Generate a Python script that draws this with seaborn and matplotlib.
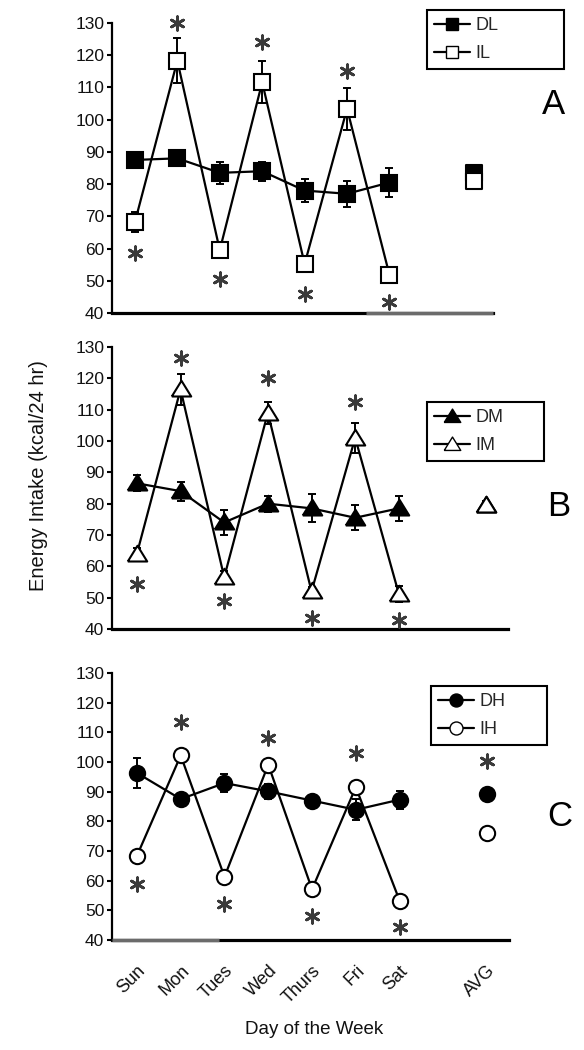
import numpy as np
import pandas as pd
import matplotlib
matplotlib.use("Agg")
import matplotlib.pyplot as plt
from matplotlib.lines import Line2D
import seaborn as sns

# ---------------- data ----------------
days = ["Sun", "Mon", "Tues", "Wed", "Thurs", "Fri", "Sat"]
avg_label = "AVG"
day_pos = [0, 1, 2, 3, 4, 5, 6]
avg_pos = 8

# Panel A (low)
DL = [87.5, 88.0, 83.5, 84.0, 78.0, 77.0, 80.5]
DL_err = [2.5, 2.0, 3.5, 3.0, 3.5, 4.0, 4.5]
DL_avg, DL_avg_err = 83.5, 1.0
IL = [68.2, 118.3, 59.5, 111.6, 55.2, 103.4, 51.8]
IL_err = [3.0, 7.0, 2.0, 6.5, 2.0, 6.5, 2.5]
IL_avg, IL_avg_err = 81.0, 2.5
stars_A_x = [0, 1, 2, 3, 4, 5, 6]
stars_A_y = [58.5, 130.0, 50.5, 124.0, 46.0, 115.0, 43.5]

# Panel B (medium)
DM = [86.5, 84.0, 74.0, 80.0, 78.5, 75.5, 78.5]
DM_err = [2.5, 3.0, 4.0, 2.5, 4.5, 4.0, 4.0]
DM_avg, DM_avg_err = 79.5, 1.0
IM = [64.0, 116.5, 56.5, 109.0, 52.0, 101.0, 51.2]
IM_err = [2.0, 5.0, 2.0, 3.5, 1.5, 4.7, 2.5]
IM_avg, IM_avg_err = 79.5, 1.5
stars_B_x = [0, 1, 2, 3, 4, 5, 6]
stars_B_y = [54.5, 126.5, 49.0, 120.0, 43.5, 112.5, 43.0]

# Panel C (high)
DH = [96.3, 87.5, 92.9, 90.1, 87.0, 83.9, 87.3]
DH_err = [5.0, 2.0, 3.0, 2.5, 1.5, 3.5, 3.0]
DH_avg, DH_avg_err = 89.3, 1.5
IH = [68.4, 102.2, 61.3, 99.1, 57.1, 91.5, 53.3]
IH_err = [1.5, 2.0, 1.5, 2.0, 1.5, 2.0, 2.0]
IH_avg, IH_avg_err = 76.0, 1.0
stars_C_x = [0, 1, 2, 3, 4, 5, 6, 8]
stars_C_y = [59.0, 113.5, 52.0, 108.0, 48.0, 103.0, 44.5, 100.5]

yticks = [40, 50, 60, 70, 80, 90, 100, 110, 120, 130]

# ---------------- style ----------------
sns.set_theme(style="ticks")
plt.rcParams["font.family"] = ["Liberation Sans", "DejaVu Sans"]

W, H = 584, 1050
fig = plt.figure(figsize=(W / 100, H / 100), dpi=100)


def fx(px):
    return px / W


def fy(py):
    return 1 - py / H


tri = [(-1.0, -0.72), (1.0, -0.72), (0.0, 0.9), (-1.0, -0.72)]

panels = [
    dict(box=(112, 23, 493, 313), xlim=(-0.54, 8.44),
         D=DL, De=DL_err, Da=DL_avg, Dae=DL_avg_err,
         I=IL, Ie=IL_err, Ia=IL_avg, Iae=IL_avg_err, marker="s", ms=11.0,
         names=("DL", "IL"), sx=stars_A_x, sy=stars_A_y, letter="A",
         letter_pos=(553, 105), leg=(427, 10, 564, 65),
         grey=(0.667, 1.0)),
    dict(box=(112, 347, 508, 629), xlim=(-0.57, 8.5),
         D=DM, De=DM_err, Da=DM_avg, Dae=DM_avg_err,
         I=IM, Ie=IM_err, Ia=IM_avg, Iae=IM_avg_err, marker=tri, ms=14.0,
         names=("DM", "IM"), sx=stars_B_x, sy=stars_B_y, letter="B",
         letter_pos=(559, 507), leg=(427, 402, 544, 457),
         grey=None),
    dict(box=(112, 673, 509, 940), xlim=(-0.57, 8.5),
         D=DH, De=DH_err, Da=DH_avg, Dae=DH_avg_err,
         I=IH, Ie=IH_err, Ia=IH_avg, Iae=IH_avg_err, marker="o", ms=11.0,
         names=("DH", "IH"), sx=stars_C_x, sy=stars_C_y, letter="C",
         letter_pos=(560, 817), leg=(431, 686, 547, 741),
         grey=(0.0, 0.27)),
]

for i, p in enumerate(panels):
    l, t, r, b = p["box"]
    ax = fig.add_axes([fx(l), fy(b), fx(r) - fx(l), fy(t) - fy(b)])

    df_D = pd.DataFrame({"x": day_pos, "y": p["D"]})
    df_I = pd.DataFrame({"x": day_pos, "y": p["I"]})

    eb = dict(fmt="none", ecolor="black", elinewidth=1.4, capsize=3,
              capthick=1.4, zorder=2)
    ax.errorbar(day_pos, p["D"], yerr=p["De"], **eb)
    ax.errorbar(day_pos, p["I"], yerr=p["Ie"], **eb)
    ax.errorbar([avg_pos], [p["Da"]], yerr=[p["Dae"]], **eb)
    ax.errorbar([avg_pos], [p["Ia"]], yerr=[p["Iae"]], **eb)

    sns.lineplot(data=df_D, x="x", y="y", ax=ax, color="black", linewidth=1.6,
                 marker=p["marker"], markersize=p["ms"], markerfacecolor="black",
                 markeredgecolor="black", markeredgewidth=1.5, zorder=3)
    sns.lineplot(data=df_I, x="x", y="y", ax=ax, color="black", linewidth=1.6,
                 marker=p["marker"], markersize=p["ms"], markerfacecolor="white",
                 markeredgecolor="black", markeredgewidth=1.5, zorder=4)
    sns.scatterplot(x=[avg_pos], y=[p["Da"]], ax=ax, marker=p["marker"],
                    s=p["ms"] ** 2, color="black", edgecolor="black",
                    linewidth=1.5, zorder=5)
    sns.scatterplot(x=[avg_pos], y=[p["Ia"]], ax=ax, marker=p["marker"],
                    s=p["ms"] ** 2, color="white", edgecolor="black",
                    linewidth=1.5, zorder=6)

    # significance asterisks
    sns.scatterplot(x=p["sx"], y=p["sy"], ax=ax, marker=(6, 2, 0), s=95,
                    color="#3a3a3a", edgecolor="#3a3a3a", linewidth=2.0,
                    zorder=7, clip_on=False)

    ax.set_xlim(*p["xlim"])
    ax.set_ylim(40, 130)
    ax.set_yticks(yticks)
    ax.set_yticklabels([str(v) for v in yticks], fontsize=12.5, color="#111111")
    ax.tick_params(axis="y", direction="out", length=3.5, width=1.5, pad=2,
                   color="black")
    ax.set_xlabel("")
    ax.set_ylabel("")
    for side in ["top", "right"]:
        ax.spines[side].set_visible(False)
    ax.spines["left"].set_linewidth(1.6)
    ax.spines["bottom"].set_linewidth(2.3)
    ax.spines["left"].set_color("black")
    ax.spines["bottom"].set_color("black")
    if p["grey"] is not None:
        g0, g1 = p["grey"]
        ax.plot([g0, g1], [0, 0], transform=ax.transAxes, color="#6b6b6b",
                lw=2.5, clip_on=False, zorder=10, solid_capstyle="butt")

    if i < 2:
        ax.set_xticks([])
    else:
        ax.set_xticks(day_pos + [avg_pos])
        ax.set_xticklabels(days + [avg_label], rotation=45, ha="right",
                           rotation_mode="anchor", fontsize=13,
                           color="#111111")
        ax.tick_params(axis="x", length=0, pad=16)

    # legend
    mk = p["marker"]
    lms = p["ms"] * 0.85
    handles = [
        Line2D([0], [0], color="black", lw=1.6, marker=mk, markersize=lms,
               markerfacecolor="black", markeredgecolor="black"),
        Line2D([0], [0], color="black", lw=1.6, marker=mk, markersize=lms,
               markerfacecolor="white", markeredgecolor="black"),
    ]
    lx0, ly0, lx1, ly1 = p["leg"]
    leg = ax.legend(handles, p["names"], loc="upper left", mode="expand",
                    bbox_to_anchor=(fx(lx0), fy(ly0), fx(lx1) - fx(lx0), 0),
                    bbox_transform=fig.transFigure,
                    fontsize=13, frameon=True, fancybox=False, framealpha=1,
                    edgecolor="black", handlelength=2.0, handletextpad=0.3,
                    borderpad=0.4, labelspacing=0.6, borderaxespad=0)
    leg.get_frame().set_linewidth(1.5)

    fig.text(fx(p["letter_pos"][0]), fy(p["letter_pos"][1]), p["letter"],
             fontsize=25, ha="center", va="center", color="black")

fig.text(fx(39), fy(476), "Energy Intake (kcal/24 hr)", rotation=90,
         ha="center", va="center", fontsize=14.5, color="#111111")
fig.text(fx(314), fy(1030), "Day of the Week", ha="center", va="center",
         fontsize=13.5, color="#111111")

fig.savefig("out.png", dpi=100)
